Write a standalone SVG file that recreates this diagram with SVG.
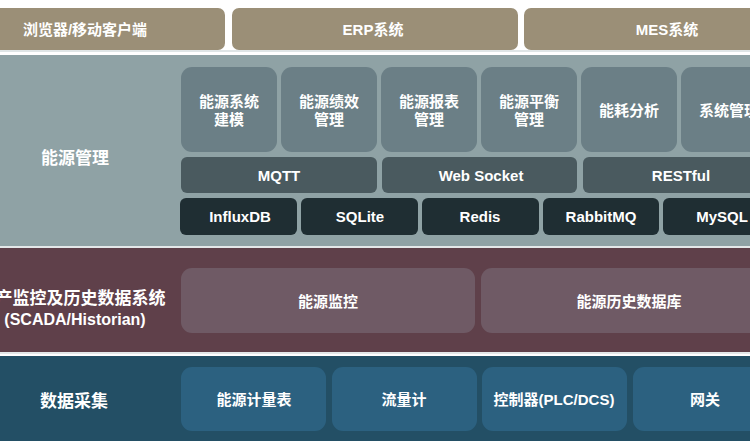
<svg xmlns="http://www.w3.org/2000/svg" width="750" height="447" viewBox="0 0 750 447">
<style>
text{font-family:"Liberation Sans","Noto Sans CJK SC",sans-serif;font-weight:bold;fill:#ffffff;text-anchor:middle;dominant-baseline:central}
.top{fill:#9b8f77}
.mod{fill:#6b7f86}
.pro{fill:#4a5a5f}
.db{fill:#1f2e33}
.sc{fill:#6f5a65}
.da{fill:#2c6180}
.t15{font-size:15px}
.t16{font-size:16px}
.t17{font-size:17px}
</style>
<rect x="0" y="0" width="750" height="447" fill="#ffffff"/>
<rect x="0" y="50" width="750" height="2" fill="#dfe5e6"/>
<rect x="0" y="55" width="750" height="191" fill="#8fa2a5"/>
<rect x="0" y="246" width="750" height="2" fill="#e4e8e9"/>
<rect x="0" y="248" width="750" height="104" fill="#5f404a"/>
<rect x="0" y="352" width="750" height="2" fill="#e4e8e9"/>
<rect x="0" y="356" width="750" height="85" fill="#234f65"/>
<g id="connectors"></g>
<g id="top-browser"><rect class="top" x="-60" y="8" width="285" height="42" rx="7"/><text class="t15" x="85" y="29">浏览器/移动客户端</text></g>
<g id="top-erp"><rect class="top" x="232" y="8" width="286" height="42" rx="7"/><text class="t15" x="373" y="29">ERP系统</text></g>
<g id="top-mes"><rect class="top" x="524" y="8" width="286" height="42" rx="7"/><text class="t15" x="667" y="29">MES系统</text></g>
<g id="label-energy"><text class="t17" x="75" y="158">能源管理</text></g>
<g id="m1"><rect class="mod" x="181" y="67" width="96" height="85" rx="11"/><text class="t15" x="229" y="101">能源系统</text><text class="t15" x="229" y="119">建模</text></g>
<g id="m2"><rect class="mod" x="281" y="67" width="96" height="85" rx="11"/><text class="t15" x="329" y="101">能源绩效</text><text class="t15" x="329" y="119">管理</text></g>
<g id="m3"><rect class="mod" x="381" y="67" width="96" height="85" rx="11"/><text class="t15" x="429" y="101">能源报表</text><text class="t15" x="429" y="119">管理</text></g>
<g id="m4"><rect class="mod" x="481" y="67" width="96" height="85" rx="11"/><text class="t15" x="529" y="101">能源平衡</text><text class="t15" x="529" y="119">管理</text></g>
<g id="m5"><rect class="mod" x="581" y="67" width="96" height="85" rx="11"/><text class="t15" x="629" y="110">能耗分析</text></g>
<g id="m6"><rect class="mod" x="681" y="67" width="96" height="85" rx="11"/><text class="t15" x="729" y="110">系统管理</text></g>
<g id="p-mqtt"><rect class="pro" x="181" y="157" width="196" height="36" rx="6"/><text class="t15" x="279" y="175">MQTT</text></g>
<g id="p-ws"><rect class="pro" x="382" y="157" width="195" height="36" rx="6"/><text class="t15" x="481" y="175">Web Socket</text></g>
<g id="p-rest"><rect class="pro" x="583" y="157" width="196" height="36" rx="6"/><text class="t15" x="681" y="175">RESTful</text></g>
<g id="d-influx"><rect class="db" x="180" y="198" width="117" height="37" rx="6"/><text class="t15" x="240" y="216">InfluxDB</text></g>
<g id="d-sqlite"><rect class="db" x="301" y="198" width="117" height="37" rx="6"/><text class="t15" x="360" y="216">SQLite</text></g>
<g id="d-redis"><rect class="db" x="422" y="198" width="117" height="37" rx="6"/><text class="t15" x="480" y="216">Redis</text></g>
<g id="d-rabbit"><rect class="db" x="543" y="198" width="116" height="37" rx="6"/><text class="t15" x="601" y="216">RabbitMQ</text></g>
<g id="d-mysql"><rect class="db" x="663" y="198" width="117" height="37" rx="6"/><text class="t15" x="722" y="216">MySQL</text></g>
<g id="label-scada"><text class="t17" x="72" y="298">生产监控及历史数据系统</text><text class="t16" x="75" y="319">(SCADA/Historian)</text></g>
<g id="s-monitor"><rect class="sc" x="181" y="268" width="294" height="65" rx="11"/><text class="t15" x="328" y="301">能源监控</text></g>
<g id="s-history"><rect class="sc" x="481" y="268" width="296" height="65" rx="11"/><text class="t15" x="629" y="301">能源历史数据库</text></g>
<g id="label-acq"><text class="t17" x="74" y="401">数据采集</text></g>
<g id="a-meter"><rect class="da" x="181" y="367" width="145" height="64" rx="11"/><text class="t15" x="254" y="399">能源计量表</text></g>
<g id="a-flow"><rect class="da" x="332" y="367" width="145" height="64" rx="11"/><text class="t15" x="404" y="399">流量计</text></g>
<g id="a-plc"><rect class="da" x="482" y="367" width="145" height="64" rx="11"/><text class="t15" x="554" y="399">控制器(PLC/DCS)</text></g>
<g id="a-gw"><rect class="da" x="633" y="367" width="145" height="64" rx="11"/><text class="t15" x="705" y="399">网关</text></g>
</svg>
